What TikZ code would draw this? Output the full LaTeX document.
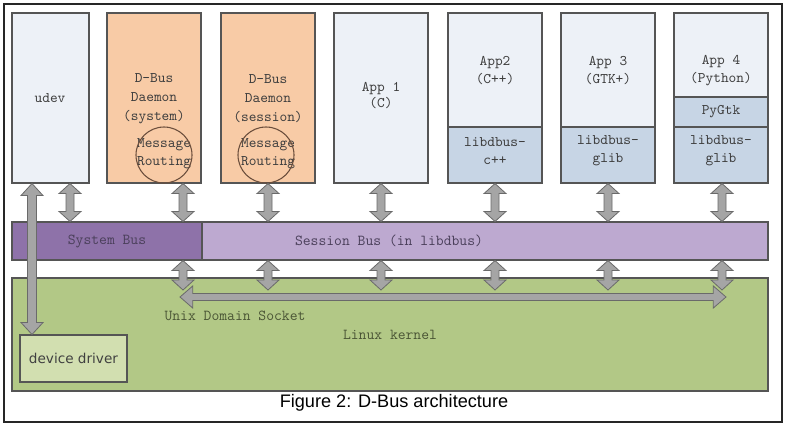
\documentclass[tikz,border=0pt]{standalone}
\usepackage{fontspec}
\setmainfont{Liberation Sans}
\newfontfamily\boxfont{Latin Modern Mono}
\newfontfamily\drvfont{DejaVu Sans}
\usetikzlibrary{fit,calc}
\definecolor{appfill}{HTML}{EDF1F7}
\definecolor{peach}{HTML}{F8CBA6}
\definecolor{libfill}{HTML}{C7D5E5}
\definecolor{sysbus}{HTML}{8E72A9}
\definecolor{sessbus}{HTML}{BDA9D0}
\definecolor{kernelc}{HTML}{B2C886}
\definecolor{driverc}{HTML}{D2DFB0}
\definecolor{edge}{HTML}{555555}
\definecolor{arrfill}{HTML}{A5A5A5}
\definecolor{arrdraw}{HTML}{6A6A6A}
\definecolor{txt}{HTML}{3E3E3E}
\definecolor{bustxt}{HTML}{4A3F5A}
\definecolor{kertxt}{HTML}{4A5535}
\definecolor{circc}{HTML}{6B4E3C}
\tikzset{
  blk/.style={draw=edge, line width=0.8pt, inner sep=0pt},
  boxtext/.style={font=\boxfont\fontsize{11}{13}\selectfont, text=txt, align=center, inner sep=0pt},
  barrow/.style={fill=arrfill, draw=arrdraw, line width=0.6pt, line join=miter},
}
% vertical double block arrow: x from #1, top y from #1, bottom y from #2
\newcommand{\vbarrow}[2]{%
  \path[barrow] let \p1=#1, \p2=#2 in
   (\x1,\y1) -- (\x1+8.25pt,\y1-7.5pt) -- (\x1+3pt,\y1-7.5pt) -- (\x1+3pt,\y2+7.5pt)
   -- (\x1+8.25pt,\y2+7.5pt) -- (\x1,\y2) -- (\x1-8.25pt,\y2+7.5pt) -- (\x1-3pt,\y2+7.5pt)
   -- (\x1-3pt,\y1-7.5pt) -- (\x1-8.25pt,\y1-7.5pt) -- cycle;}
% long thin vertical double arrow
\newcommand{\vlarrow}[2]{%
  \path[barrow] let \p1=#1, \p2=#2 in
   (\x1,\y1) -- (\x1+8.25pt,\y1-9pt) -- (\x1+3.4pt,\y1-9pt) -- (\x1+3.4pt,\y2+9pt)
   -- (\x1+8.25pt,\y2+9pt) -- (\x1,\y2) -- (\x1-8.25pt,\y2+9pt) -- (\x1-3.4pt,\y2+9pt)
   -- (\x1-3.4pt,\y1-9pt) -- (\x1-8.25pt,\y1-9pt) -- cycle;}
% horizontal double block arrow: left point #1, right x from #2
\newcommand{\hbarrow}[2]{%
  \path[barrow] let \p1=#1, \p2=#2 in
   (\x1,\y1) -- (\x1+9.5pt,\y1+8.25pt) -- (\x1+9.5pt,\y1+2.6pt) -- (\x2-9.5pt,\y1+2.6pt)
   -- (\x2-9.5pt,\y1+8.25pt) -- (\x2,\y1) -- (\x2-9.5pt,\y1-8.25pt) -- (\x2-9.5pt,\y1-2.6pt)
   -- (\x1+9.5pt,\y1-2.6pt) -- (\x1+9.5pt,\y1-8.25pt) -- cycle;}
\begin{document}
\begin{tikzpicture}[x=0.75pt,y=-0.75pt]
\useasboundingbox (0,0) rectangle (787,426);
\fill[white] (0,0) rectangle (787,426);
\draw[line width=1.4pt, draw=black!85] (4,4) rectangle (782,422);

% top boxes
\node[blk, fill=appfill, fit={(12,13) (89,183)}] (udev) {};
\node[blk, fill=peach, fit={(107,13) (201,183)}] (dsys) {};
\node[blk, fill=peach, fit={(221,13) (315,183)}] (dses) {};
\node[blk, fill=appfill, fit={(334,13) (428,183)}] (app1) {};
\node[blk, fill=appfill, fit={(448,13) (542,183)}] (app2) {};
\node[blk, fill=libfill, fit={(448,127) (542,183)}] (lib2) {};
\node[blk, fill=appfill, fit={(561,13) (655,183)}] (app3) {};
\node[blk, fill=libfill, fit={(561,127) (655,183)}] (lib3) {};
\node[blk, fill=appfill, fit={(674,13) (768,183)}] (app4) {};
\node[blk, fill=libfill, fit={(674,97) (768,127)}] (pygtk) {};
\node[blk, fill=libfill, fit={(674,127) (768,183)}] (lib4) {};

% buses and kernel
\node[blk, fill=sysbus, fit={(12,222) (202,260)}] (sbus) {};
\node[blk, fill=sessbus, fit={(202,222) (768,260)}] (ebus) {};
\node[blk, fill=kernelc, fit={(12,278) (768,391)}] (kernel) {};
\node[blk, fill=driverc, fit={(20,335) (127,382)}] (driver) {};

% texts
\node[boxtext] (tudev) at (50,98) {udev};
\node[boxtext, font=\boxfont\fontsize{11}{14.25}\selectfont] (tdsys) at (154,99) {D-Bus\\Daemon\\(system)};
\node[boxtext, font=\boxfont\fontsize{11}{14.25}\selectfont] (tdses) at (268,99) {D-Bus\\Daemon\\(session)};
\node[boxtext, font=\boxfont\fontsize{11}{13.5}\selectfont] (mrsys) at (164,154) {Message\\Routing};
\node[boxtext, font=\boxfont\fontsize{11}{13.5}\selectfont] (mrses) at (268,154) {Message\\Routing};
\node[draw=circc, line width=0.8pt, circle, minimum size=42pt, inner sep=0pt] (csys) at (164,155) {};
\node[draw=circc, line width=0.8pt, circle, minimum size=42pt, inner sep=0pt] (cses) at (266,155) {};
\node[boxtext, font=\boxfont\fontsize{11}{12}\selectfont] (tapp1) at (381,96) {App 1\\(C)};
\node[boxtext, font=\boxfont\fontsize{11}{13.5}\selectfont] (tapp2) at (495,71) {App2\\(C++)};
\node[boxtext, font=\boxfont\fontsize{11}{13.5}\selectfont] (tlib2) at (495,151) {libdbus-\\c++};
\node[boxtext, font=\boxfont\fontsize{11}{13.5}\selectfont] (tapp3) at (608,71) {App 3\\(GTK+)};
\node[boxtext, font=\boxfont\fontsize{11}{13.5}\selectfont] (tlib3) at (608,151) {libdbus-\\glib};
\node[boxtext, font=\boxfont\fontsize{11}{13.5}\selectfont] (tapp4) at (721,71) {App 4\\(Python)};
\node[boxtext] (tpy) at (721,112) {PyGtk};
\node[boxtext, font=\boxfont\fontsize{11}{13.5}\selectfont] (tlib4) at (721,151) {libdbus-\\glib};
\node[boxtext, font=\boxfont\fontsize{11.4}{12}\selectfont, text=bustxt] (tsbus) at (107,241) {System Bus};
\node[boxtext, font=\boxfont\fontsize{11.4}{12}\selectfont, text=bustxt] (tebus) at (389,241) {Session Bus (in libdbus)};
\node[boxtext, font=\boxfont\fontsize{11.4}{12}\selectfont, text=kertxt] (tuds) at (235,316) {Unix Domain Socket};
\node[boxtext, font=\boxfont\fontsize{11.4}{12}\selectfont, text=kertxt] (tlk) at (390,335) {Linux kernel};
\node[font=\drvfont\fontsize{10.2}{12}\selectfont, text=black!75, inner sep=0pt] (tdrv) at (driver.center) {device driver};
\node[font=\fontsize{13.6}{16}\selectfont, inner sep=0pt] (cap) at (394,403) {Figure 2: D-Bus architecture};

% arrow x positions
\coordinate (xa) at (32,0);
\coordinate (xb) at (70,0);
\coordinate (xc) at (183,0);
\coordinate (xd) at (268,0);
\coordinate (xe) at (381,0);
\coordinate (xf) at (495,0);
\coordinate (xg) at (608,0);
\coordinate (xh) at (722,0);
\coordinate (sockL) at (180,297);
\coordinate (sockR) at (726,297);
\coordinate (sockT) at (0,290);

% upper arrows
\vbarrow{(udev.south -| xb)}{(sbus.north -| xb)}
\vbarrow{(dsys.south -| xc)}{(sbus.north -| xc)}
\vbarrow{(dses.south -| xd)}{(ebus.north -| xd)}
\vbarrow{(app1.south -| xe)}{(ebus.north -| xe)}
\vbarrow{(lib2.south -| xf)}{(ebus.north -| xf)}
\vbarrow{(lib3.south -| xg)}{(ebus.north -| xg)}
\vbarrow{(lib4.south -| xh)}{(ebus.north -| xh)}
% socket arrow
\hbarrow{(sockL)}{(sockR)}
% lower arrows
\vbarrow{(sbus.south -| xc)}{(sockT -| xc)}
\vbarrow{(ebus.south -| xd)}{(sockT -| xd)}
\vbarrow{(ebus.south -| xe)}{(sockT -| xe)}
\vbarrow{(ebus.south -| xf)}{(sockT -| xf)}
\vbarrow{(ebus.south -| xg)}{(sockT -| xg)}
\vbarrow{(ebus.south -| xh)}{(sockT -| xh)}
% udev to device driver
\vlarrow{(udev.south -| xa)}{(driver.north -| xa)}
\end{tikzpicture}
\end{document}
